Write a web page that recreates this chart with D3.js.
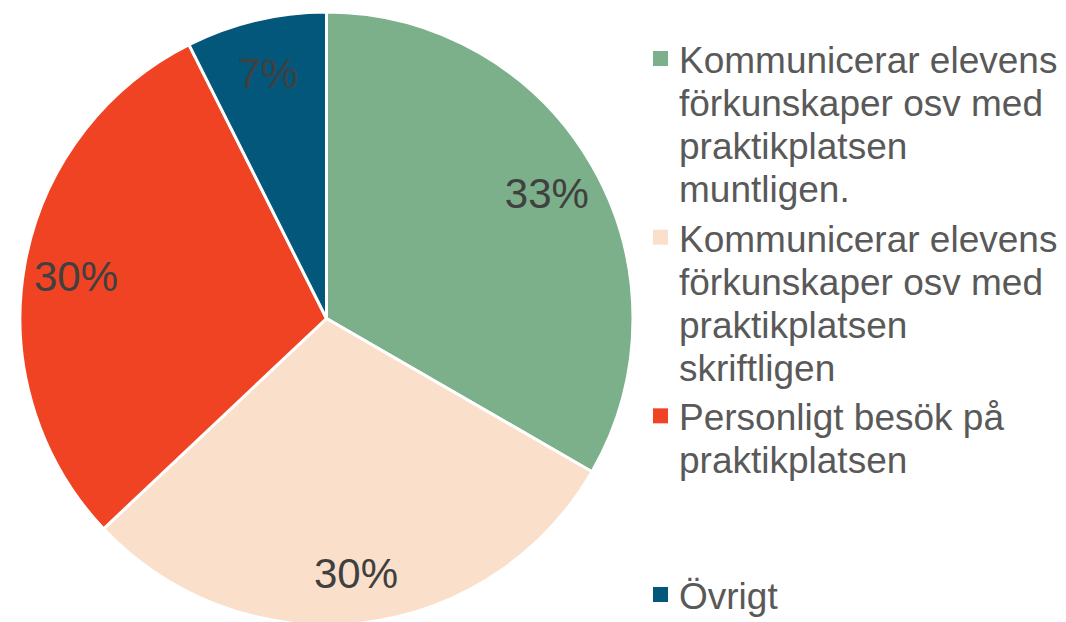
<!DOCTYPE html>
<html>
<head>
<meta charset="utf-8">
<script src="https://cdn.jsdelivr.net/npm/d3@7"></script>
<style>
  body { margin: 0; background: #fff; }
  svg { display: block; font-family: "Liberation Sans", Arial, sans-serif; }
</style>
</head>
<body>
<div></div>
<script>
var categories = [
    "Kommunicerar elevens förkunskaper osv med praktikplatsen muntligen.",
    "Kommunicerar elevens förkunskaper osv med praktikplatsen skriftligen",
    "Personligt besök på praktikplatsen",
    "Övrigt"
];
// legend text broken into lines as in the picture
var legendLines = [
    ["Kommunicerar elevens", "förkunskaper osv med", "praktikplatsen", "muntligen."],
    ["Kommunicerar elevens", "förkunskaper osv med", "praktikplatsen", "skriftligen"],
    ["Personligt besök på", "praktikplatsen"],
    ["Övrigt"]
];
var values = [9, 8, 8, 2];
var colors = ["#7BB08A", "#FAE0CA", "#F04323", "#03577A"];

var width = 1066,
    height = 622,
    cx = 326.5,
    cy = 318.5,
    radius = 306.5;

var svg = d3.select("div")
    .append("svg")
    .attr("width", width)
    .attr("height", height);

var total = d3.sum(values);
var pct = d3.format(".0%");

var pie = d3.pie().sort(null).value(function (d) { return d; });
var arcs = pie(values);

var arc = d3.arc().innerRadius(0).outerRadius(radius);
var labelArc = d3.arc().innerRadius(radius * 0.83).outerRadius(radius * 0.83);

var g = svg.append("g")
    .attr("transform", "translate(" + cx + "," + cy + ")");

g.selectAll("path")
    .data(arcs)
    .enter().append("path")
    .attr("d", arc)
    .attr("fill", function (d, i) { return colors[i]; })
    .attr("stroke", "#fff")
    .attr("stroke-width", 3)
    .attr("stroke-linejoin", "round");

g.selectAll("text")
    .data(arcs)
    .enter().append("text")
    .attr("transform", function (d) {
        return "translate(" + labelArc.centroid(d) + ")";
    })
    .attr("text-anchor", "middle")
    .attr("dy", "0.4em")
    .attr("font-size", 42)
    .attr("fill", "#404040")
    .text(function (d) { return pct(d.value / total); });

// legend
var ly = d3.scaleLinear().domain([0, categories.length - 1]).range([73, 609]);
var lineH = 43;

var legend = svg.append("g")
    .selectAll("g")
    .data(categories)
    .enter().append("g")
    .attr("transform", function (d, i) { return "translate(653," + ly(i) + ")"; });

legend.append("rect")
    .attr("x", 0)
    .attr("y", -22)
    .attr("width", 15)
    .attr("height", 15)
    .attr("fill", function (d, i) { return colors[i]; });

legend.append("text")
    .attr("x", 26)
    .attr("font-size", 37)
    .attr("fill", "#595959")
    .selectAll("tspan")
    .data(function (d, i) { return legendLines[i]; })
    .enter().append("tspan")
    .attr("x", 26)
    .attr("y", function (d, j) { return j * lineH; })
    .text(function (d) { return d; });
</script>
</body>
</html>
